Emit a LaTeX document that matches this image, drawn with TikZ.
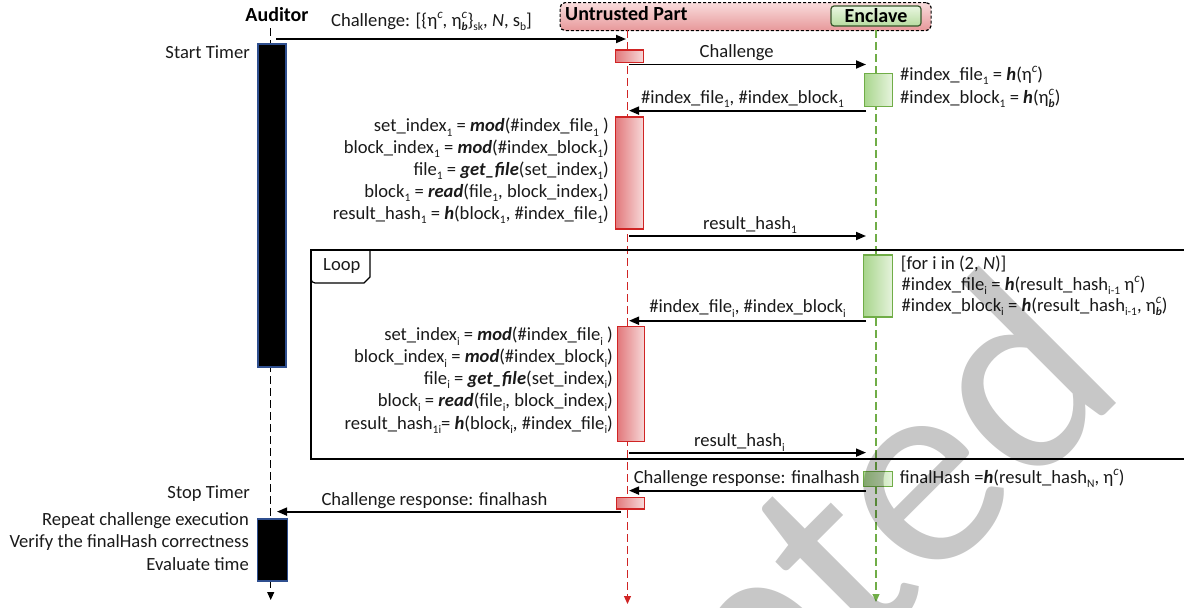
\documentclass[tikz,border=0pt]{standalone}
\usepackage{fontspec}
\setmainfont{Carlito}
\usetikzlibrary{arrows.meta}
\definecolor{redline}{HTML}{D02424}
\definecolor{redL}{HTML}{E2797C}
\definecolor{redR}{HTML}{F7DADA}
\definecolor{hdrT}{HTML}{F9DCDC}
\definecolor{hdrB}{HTML}{E7989A}
\definecolor{grnline}{HTML}{70AD47}
\definecolor{grnL}{HTML}{A8D68C}
\definecolor{grnR}{HTML}{E6F3DD}
\definecolor{encT}{HTML}{E9F6E1}
\definecolor{encB}{HTML}{B7DCA0}
\definecolor{encD}{HTML}{37562A}
\definecolor{audB}{HTML}{2F4F8F}
\definecolor{txt}{HTML}{1A1A1A}
\newcommand\sbx[1]{\raisebox{-0.24em}{\fontsize{11.5}{11.5}\selectfont #1}}
\newcommand\spx[1]{\raisebox{0.42em}{\fontsize{13}{13}\selectfont #1}}
\newcommand\fn[1]{\textbf{\textit{#1}}}
\newcommand\etac{η\spx{\textit{c}}}
\newcommand\etacb{η\makebox[0pt][l]{\spx{\textit{c}}}\sbx{\fn{b}}}
\begin{document}
\begin{tikzpicture}[x=1pt,y=-1pt,
  lbl/.style={inner sep=0pt, text=txt, font=\fontsize{18.6}{22}\selectfont},
  ttl/.style={inner sep=0pt, font=\fontsize{20}{24}\selectfont\bfseries},
  msg/.style={-{Triangle[length=10pt,width=8pt]}, line width=1.8pt},
  life/.style={dash pattern=on 8pt off 4pt, line width=1.1pt, -{Triangle[length=8pt,width=7pt]}},
  redact/.style={draw=redline, line width=1.3pt, left color=redL, right color=redR, inner sep=0pt, anchor=north west},
  grnact/.style={draw=grnline, line width=1.3pt, left color=grnL, right color=grnR, inner sep=0pt, anchor=north west},
  audact/.style={draw=audB, line width=1.2pt, fill=black, inner sep=0pt, anchor=north west},
  frame/.style={line width=1.2pt, draw=black}
]
\path[use as bounding box] (0,0) rectangle (1184,608);

% header
\node[draw=black, dash pattern=on 3pt off 2pt, line width=1.2pt, rounded corners=5pt,
      top color=hdrT, bottom color=hdrB, minimum width=371pt, minimum height=28pt,
      inner sep=0pt, anchor=north west] (hdr) at (559.5,2) {};
\node[ttl, anchor=base west] (untr) at (565,20.7) {Untrusted Part};
\node[draw=encD, line width=1.2pt, rounded corners=3pt, top color=encT, bottom color=encB,
      minimum width=90pt, minimum height=20pt, inner sep=0pt, ttl] (enc) at (876,16) {Enclave};
\node[ttl, anchor=base] (aud) at (277,21.5) {Auditor};

% lifeline coordinates
\coordinate (aTop) at (270.7,28);
\coordinate (aEnd) at (270.7,600);
\coordinate (uTop) at (627.5,30);
\coordinate (uEnd) at (627.5,604);
\coordinate (eTop) at (876,30);
\coordinate (eEnd) at (876,602);
\draw[life, black] (aTop) -- (aEnd);
\draw[life, redline] (uTop) -- (uEnd);
\draw[life, grnline] (eTop) -- (eEnd);

% loop frame
\draw[frame] (1184,250) -- (311,250) -- (311,459) -- (1184,459);
\draw[frame] (370,250) -- (370,277) -- (364,283) [rounded corners=4pt] -- (311,283) -- (311,268);
\node[lbl, anchor=base west] (looplbl) at (323,270.7) {Loop};

% activation boxes
\node[audact, minimum width=28pt, minimum height=323pt] (a1) at (257.3,43.3) {};
\node[audact, minimum width=30pt, minimum height=62pt] (a2) at (257,518.3) {};
\node[redact, minimum width=28pt, minimum height=12.5pt] (r1) at (615,49.3) {};
\node[redact, minimum width=28pt, minimum height=112pt] (r2) at (615,116.3) {};
\node[redact, minimum width=27pt, minimum height=115pt] (r3) at (617,326) {};
\node[redact, minimum width=28pt, minimum height=11.5pt] (r4) at (615.5,496.8) {};
\node[grnact, minimum width=28pt, minimum height=33pt] (g1) at (863.5,72.5) {};
\node[grnact, minimum width=29pt, minimum height=62pt] (g2) at (863,254.3) {};
\node[grnact, minimum width=29pt, minimum height=15pt] (g3) at (862.8,471) {};

% message endpoints
\coordinate (m1s) at (276,39);    \coordinate (m1e) at (626,39);
\coordinate (m2s) at (629,64.5);  \coordinate (m2e) at (866,64.5);
\coordinate (m3s) at (866,110.6); \coordinate (m3e) at (629,110.6);
\coordinate (m4s) at (629,236);   \coordinate (m4e) at (866,236);
\coordinate (m5s) at (866,320.7); \coordinate (m5e) at (629,320.7);
\coordinate (m6s) at (629,452.6); \coordinate (m6e) at (866,452.6);
\coordinate (m7s) at (866,490.6); \coordinate (m7e) at (629,490.6);
\coordinate (m8s) at (621,511.6); \coordinate (m8e) at (277,511.6);
\draw[msg] (m1s) -- (m1e);
\draw[msg] (m2s) -- (m2e);
\draw[msg] (m3s) -- (m3e);
\draw[msg] (m4s) -- (m4e);
\draw[msg] (m5s) -- (m5e);
\draw[msg] (m6s) -- (m6e);
\draw[msg] (m7s) -- (m7e);
\draw[msg] (m8s) -- (m8e);

% message labels
\node[lbl, anchor=base] (l1) at (431.5,26) {Challenge: [\{\etac, \etacb\}\sbx{sk}, \textit{N}, s\sbx{b}]};
\node[lbl, anchor=base] (l2) at (736.7,57.3) {Challenge};
\node[lbl, anchor=base] (l3) at (742.5,103.5) {\#index\_file\sbx{1}, \#index\_block\sbx{1}};
\node[lbl, anchor=base] (l4) at (750,229.5) {result\_hash\sbx{1}};
\node[lbl, anchor=base] (l5) at (747.6,312.7) {\#index\_file\sbx{i}, \#index\_block\sbx{i}};
\node[lbl, anchor=base] (l6) at (739.5,446.7) {result\_hash\sbx{i}};
\node[lbl, anchor=base west] (l7) at (633.6,483.3) {Challenge response: finalhash};
\node[lbl, anchor=base] (l8) at (434.5,505) {Challenge response: finalhash};

% auditor notes
\node[lbl, anchor=base east] (t1) at (250,58.3) {Start Timer};
\node[lbl, anchor=base east] (t2) at (250,498.3) {Stop Timer};
\node[lbl, anchor=base east] (t3) at (249,525.5) {Repeat challenge execution};
\node[lbl, anchor=base east] (t4) at (249,547.5) {Verify the finalHash correctness};
\node[lbl, anchor=base east] (t5) at (249,570) {Evaluate time};

% enclave notes
\node[lbl, anchor=base west] (e1) at (900,80) {\#index\_file\sbx{1} = \fn{h}(\etac)};
\node[lbl, anchor=base west] (e2) at (900,103.5) {\#index\_block\sbx{1} = \fn{h}(\etacb)};
\node[lbl, anchor=base west] (e3) at (900.7,269.3) {[for i in (2, \textit{N})]};
\node[lbl, anchor=base west] (e4) at (901.5,290) {\#index\_file\sbx{i} = \fn{h}(result\_hash\sbx{i-1} \etac)};
\node[lbl, anchor=base west] (e5) at (901.5,311) {\#index\_block\sbx{i} = \fn{h}(result\_hash\sbx{i-1}, \etacb)};
\node[lbl, anchor=base west] (e6) at (899.6,483.3) {finalHash =\fn{h}(result\_hash\sbx{N}, \etac)};

% untrusted notes (first)
\node[lbl, anchor=base east] (u1) at (609,131.7) {set\_index\sbx{1} = \fn{mod}(\#index\_file\sbx{1} )};
\node[lbl, anchor=base east] (u2) at (609,153.3) {block\_index\sbx{1} = \fn{mod}(\#index\_block\sbx{1})};
\node[lbl, anchor=base east] (u3) at (609,175) {file\sbx{1} = \fn{get\_file}(set\_index\sbx{1})};
\node[lbl, anchor=base east] (u4) at (609,197.3) {block\sbx{1} = \fn{read}(file\sbx{1}, block\_index\sbx{1})};
\node[lbl, anchor=base east] (u5) at (609,219.3) {result\_hash\sbx{1} = \fn{h}(block\sbx{1}, \#index\_file\sbx{1})};

% untrusted notes (loop)
\node[lbl, anchor=base east] (v1) at (613,340.7) {set\_index\sbx{i} = \fn{mod}(\#index\_file\sbx{i} )};
\node[lbl, anchor=base east] (v2) at (613,362.7) {block\_index\sbx{i} = \fn{mod}(\#index\_block\sbx{i})};
\node[lbl, anchor=base east] (v3) at (613,384.3) {file\sbx{i} = \fn{get\_file}(set\_index\sbx{i})};
\node[lbl, anchor=base east] (v4) at (613,406.7) {block\sbx{i} = \fn{read}(file\sbx{i}, block\_index\sbx{i})};
\node[lbl, anchor=base east] (v5) at (613,429.3) {result\_hash\sbx{1i}= \fn{h}(block\sbx{i}, \#index\_file\sbx{i})};

% watermark
\begin{scope}
\clip (0,0) rectangle (1184,608);
\node[rotate=45, inner sep=0pt, text=black, text opacity=0.22,
      font=\fontsize{280}{280}\selectfont] (wm) at (702,712) {Accepted};
\end{scope}
\end{tikzpicture}
\end{document}
